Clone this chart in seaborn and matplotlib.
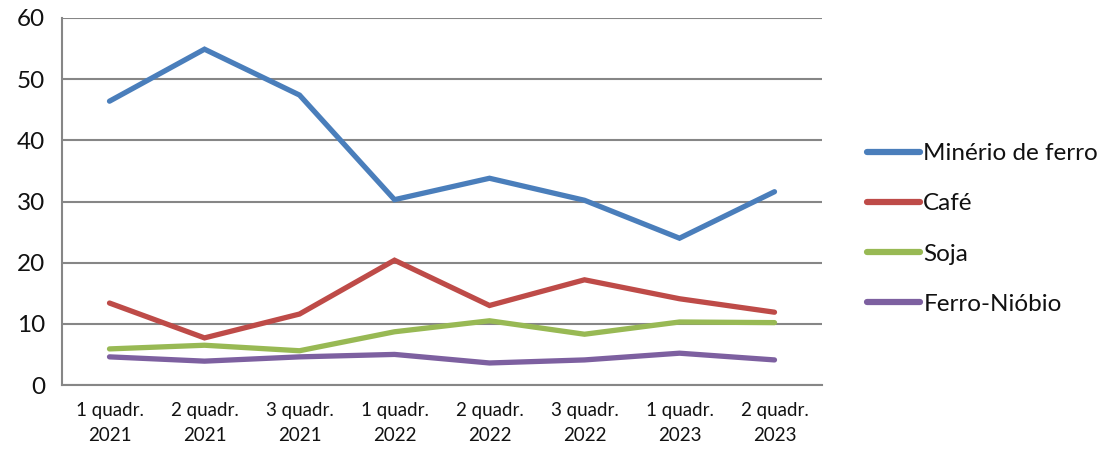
import matplotlib
matplotlib.use("Agg")
import matplotlib.pyplot as plt
import seaborn as sns
import pandas as pd
import numpy as np

categories = ["1 quadr.\n2021", "2 quadr.\n2021", "3 quadr.\n2021", "1 quadr.\n2022",
              "2 quadr.\n2022", "3 quadr.\n2022", "1 quadr.\n2023", "2 quadr.\n2023"]
minerio = [46.4, 54.9, 47.4, 30.3, 33.8, 30.2, 24.0, 31.6]
cafe = [13.4, 7.7, 11.6, 20.4, 13.0, 17.2, 14.1, 11.9]
soja = [5.9, 6.5, 5.6, 8.7, 10.5, 8.3, 10.3, 10.2]
ferro_niobio = [4.6, 3.9, 4.6, 5.0, 3.6, 4.1, 5.2, 4.1]
series_names = ["Minério de ferro", "Café", "Soja", "Ferro-Nióbio"]
colors = ["#4A7EBB", "#BE4B48", "#98B954", "#7D60A0"]

rows = []
for name, vals in zip(series_names, [minerio, cafe, soja, ferro_niobio]):
    for i, (c, v) in enumerate(zip(categories, vals)):
        rows.append({"pos": i, "cat": c, "valor": v, "serie": name})
df = pd.DataFrame(rows)

sns.set_style("white")
plt.rcParams["font.family"] = ["Lato", "DejaVu Sans"]

fig = plt.figure(figsize=(11.03, 4.51), dpi=100)
ax = fig.add_axes([62/1103, 66/451, (822-62)/1103, (385-18)/451])

sns.lineplot(data=df, x="pos", y="valor", hue="serie", hue_order=series_names,
             palette=colors, linewidth=3.8, ax=ax, solid_capstyle="round",
             solid_joinstyle="miter", zorder=3)

ax.set_xlim(-0.5, len(categories) - 0.5)
ax.set_ylim(0, 60)
ax.set_yticks(range(0, 61, 10))
ax.set_xticks(range(len(categories)))
ax.set_xticklabels(categories, fontsize=13.5, linespacing=1.6, color="#111111")
ax.set_xticks(np.arange(-0.5, len(categories), 1.0), minor=True)
ax.tick_params(axis="x", which="major", length=0, pad=12)
ax.tick_params(axis="x", which="minor", length=6, width=1.5, color="#868686", direction="out")
ax.tick_params(axis="y", length=8, width=1.5, color="#868686", labelsize=17.5,
               labelcolor="#111111", pad=4)
ax.grid(axis="y", color="#868686", linewidth=1.5, zorder=0)
ax.grid(axis="x", visible=False)
for s in ["top", "right"]:
    ax.spines[s].set_visible(False)
for s in ["left", "bottom"]:
    ax.spines[s].set_color("#868686")
    ax.spines[s].set_linewidth(1.5)
ax.set_xlabel("")
ax.set_ylabel("")

leg = ax.legend(loc="center left", bbox_to_anchor=(845/1103, 222/451),
                bbox_transform=fig.transFigure, frameon=False, fontsize=17.5,
                handlelength=2.2, handletextpad=0.12, labelspacing=1.2)
for line in leg.get_lines():
    line.set_linewidth(4.5)
    line.set_solid_capstyle("round")
for t in leg.get_texts():
    t.set_color("#111111")

fig.savefig("out.png", dpi=100)
